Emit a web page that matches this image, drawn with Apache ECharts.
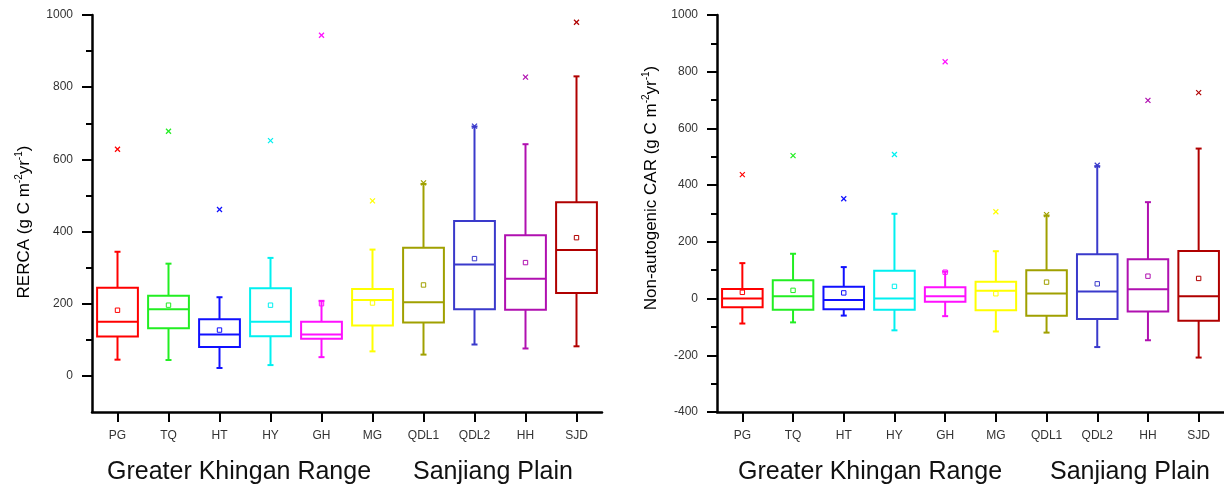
<!DOCTYPE html>
<html>
<head>
<meta charset="utf-8">
<script src="https://cdn.jsdelivr.net/npm/echarts@6/dist/echarts.min.js"></script>
<style>
html,body{margin:0;padding:0;background:#fff;}
#main{width:1224px;height:490px;}
</style>
</head>
<body>
<div id="main"></div>
<script>
const categories = ['PG','TQ','HT','HY','GH','MG','QDL1','QDL2','HH','SJD'];
const colors = ['#ff0000','#22ee22','#1010ff','#00f0f0','#ff10ff','#ffff00','#a0a000','#3a3acb','#b010b0','#b00000'];

// RERCA (left panel)
const rercaMin  = [45, 44, 22, 30, 52, 68, 59, 87, 76, 82];
const rercaQ1   = [109, 132, 80, 110, 103, 140, 148, 185, 183, 230];
const rercaMed  = [150, 185, 115, 150, 115, 210, 204, 309, 269, 349];
const rercaQ3   = [244, 222, 157, 243, 150, 241, 355, 429, 390, 481];
const rercaMax  = [344, 311, 218, 327, 208, 350, 532, 691, 642, 830];
const rercaMean = [182, 196, 127, 196, 200, 202, 252, 325, 314, 383];
const rercaOut  = [628, 678, 461, 652, 944, 485, 535, 692, 828, 980];

// Non-autogenic CAR (right panel)
const carMin  = [-88, -84, -60, -112, -62, -116, -120, -171, -147, -208];
const carQ1   = [-31, -39, -38, -39, -11, -41, -61, -72, -46, -78];
const carMed  = [0, 8, -5, 0, 8, 28, 18, 25, 33, 8];
const carQ3   = [34, 65, 42, 98, 40, 59, 100, 156, 139, 168];
const carMax  = [125, 158, 111, 299, 95, 167, 293, 467, 340, 529];
const carMean = [22, 29, 20, 43, 93, 17, 58, 52, 79, 71];
const carOut  = [437, 504, 352, 508, 835, 306, 296, 470, 699, 726];

const leftMajorTicks = [0, 200, 400, 600, 800, 1000];
const leftMinorTicks = [100, 300, 500, 700, 900];
const groupLabels = ['Greater Khingan Range', 'Sanjiang Plain'];

function buildData(mn, q1, md, q3, mx, mean, out) {
  return categories.map((c, i) => [i, mn[i], q1[i], md[i], q3[i], mx[i], mean[i], out[i]]);
}

function renderBox(params, api) {
  const idx = api.value(0);
  const color = colors[params.dataIndex];
  const x = api.coord([idx, 0])[0];
  const Y = v => api.coord([idx, v])[1];
  const w = api.size([1, 0])[0] * 0.8;
  const h = w / 2;
  const mn = api.value(1), q1 = api.value(2), md = api.value(3), q3 = api.value(4), mx = api.value(5), mean = api.value(6), out = api.value(7);
  const ls = {stroke: color, lineWidth: 2, fill: null};
  const thin = {stroke: color, lineWidth: 1.2, fill: null};
  const ox = x, oy = Y(out), s = 2.5;
  return {
    type: 'group',
    children: [
      {type: 'line', shape: {x1: x, y1: Y(q3), x2: x, y2: Y(mx)}, style: ls},
      {type: 'line', shape: {x1: x, y1: Y(q1), x2: x, y2: Y(mn)}, style: ls},
      {type: 'line', shape: {x1: x - 3, y1: Y(mx), x2: x + 3, y2: Y(mx)}, style: ls},
      {type: 'line', shape: {x1: x - 3, y1: Y(mn), x2: x + 3, y2: Y(mn)}, style: ls},
      {type: 'rect', shape: {x: x - h, y: Y(q3), width: w, height: Y(q1) - Y(q3)}, style: {stroke: color, lineWidth: 2, fill: 'rgba(0,0,0,0)'}},
      {type: 'line', shape: {x1: x - h, y1: Y(md), x2: x + h, y2: Y(md)}, style: ls},
      {type: 'rect', shape: {x: x - 2.2, y: Y(mean) - 2.2, width: 4.4, height: 4.4}, style: {stroke: color, lineWidth: 1, fill: 'rgba(0,0,0,0)'}},
      {type: 'line', shape: {x1: ox - s, y1: oy - s, x2: ox + s, y2: oy + s}, style: thin},
      {type: 'line', shape: {x1: ox - s, y1: oy + s, x2: ox + s, y2: oy - s}, style: thin}
    ]
  };
}

const axisLineStyle = {color: '#000', width: 2.5};
const labelStyle = {color: '#333', fontSize: 12, fontFamily: 'Liberation Sans, Arial, sans-serif'};
const plainNum = v => String(v);

function xAxisFor(gridIndex) {
  return {
    type: 'category', gridIndex: gridIndex, data: categories, boundaryGap: true,
    axisLine: {show: true, onZero: false, lineStyle: axisLineStyle},
    axisTick: {show: true, alignWithLabel: true, inside: false, length: 10, lineStyle: {color: '#000', width: 2}},
    axisLabel: Object.assign({margin: 18}, labelStyle),
    splitLine: {show: false}
  };
}

const titleRich = {
  a: {fontSize: 17, fontFamily: 'Liberation Sans, Arial, sans-serif', color: '#111', lineHeight: 22},
  s: {fontSize: 10, fontFamily: 'Liberation Sans, Arial, sans-serif', color: '#111', lineHeight: 22, padding: [0, 0, 9, 0]}
};

const option = {
  animation: false,
  backgroundColor: '#fff',
  grid: [
    {left: 92, top: 15, width: 510, height: 397},
    {left: 717, top: 15, width: 508, height: 397}
  ],
  xAxis: [xAxisFor(0), xAxisFor(1)],
  yAxis: [
    {
      type: 'value', gridIndex: 0, min: -100, max: 1000,
      axisLine: {show: true, onZero: false, lineStyle: axisLineStyle},
      axisTick: {show: true, length: 10, customValues: leftMajorTicks, lineStyle: {color: '#000', width: 2}},
      axisLabel: Object.assign({margin: 19, customValues: leftMajorTicks, formatter: plainNum}, labelStyle),
      splitLine: {show: false}
    },
    {
      type: 'value', gridIndex: 0, min: -100, max: 1000, position: 'left',
      axisLine: {show: false},
      axisTick: {show: true, length: 6, customValues: leftMinorTicks, lineStyle: {color: '#000', width: 2}},
      axisLabel: {show: false},
      splitLine: {show: false}
    },
    {
      type: 'value', gridIndex: 1, min: -400, max: 1000, interval: 200,
      axisLine: {show: true, onZero: false, lineStyle: axisLineStyle},
      axisTick: {show: true, length: 10, lineStyle: {color: '#000', width: 2}},
      minorTick: {show: true, splitNumber: 2, length: 6, lineStyle: {color: '#000', width: 2}},
      axisLabel: Object.assign({margin: 19, formatter: plainNum}, labelStyle),
      splitLine: {show: false},
      minorSplitLine: {show: false}
    }
  ],
  series: [
    {
      type: 'custom', xAxisIndex: 0, yAxisIndex: 0,
      data: buildData(rercaMin, rercaQ1, rercaMed, rercaQ3, rercaMax, rercaMean, rercaOut),
      encode: {x: 0, y: [1, 2, 3, 4, 5, 6, 7]},
      renderItem: renderBox
    },
    {
      type: 'custom', xAxisIndex: 1, yAxisIndex: 2,
      data: buildData(carMin, carQ1, carMed, carQ3, carMax, carMean, carOut),
      encode: {x: 0, y: [1, 2, 3, 4, 5, 6, 7]},
      renderItem: renderBox
    }
  ],
  graphic: [
    {type: 'text', x: 24, y: 222, rotation: Math.PI / 2,
     style: {text: '{a|RERCA (g C m}{s|-2}{a|yr}{s|-1}{a|)}', rich: titleRich, align: 'center', verticalAlign: 'middle'}},
    {type: 'text', x: 651, y: 188, rotation: Math.PI / 2,
     style: {text: '{a|Non-autogenic CAR (g C m}{s|-2}{a|yr}{s|-1}{a|)}', rich: titleRich, align: 'center', verticalAlign: 'middle'}},
    {type: 'text', x: 107, y: 472, style: {text: groupLabels[0], fontSize: 25, fontFamily: 'Liberation Sans, Arial, sans-serif', fill: '#111', align: 'left', verticalAlign: 'middle'}},
    {type: 'text', x: 413, y: 472, style: {text: groupLabels[1], fontSize: 25, fontFamily: 'Liberation Sans, Arial, sans-serif', fill: '#111', align: 'left', verticalAlign: 'middle'}},
    {type: 'text', x: 738, y: 472, style: {text: groupLabels[0], fontSize: 25, fontFamily: 'Liberation Sans, Arial, sans-serif', fill: '#111', align: 'left', verticalAlign: 'middle'}},
    {type: 'text', x: 1050, y: 472, style: {text: groupLabels[1], fontSize: 25, fontFamily: 'Liberation Sans, Arial, sans-serif', fill: '#111', align: 'left', verticalAlign: 'middle'}}
  ]
};

const chart = echarts.init(document.getElementById('main'), null, {renderer: 'canvas'});
chart.setOption(option);
</script>
</body>
</html>
